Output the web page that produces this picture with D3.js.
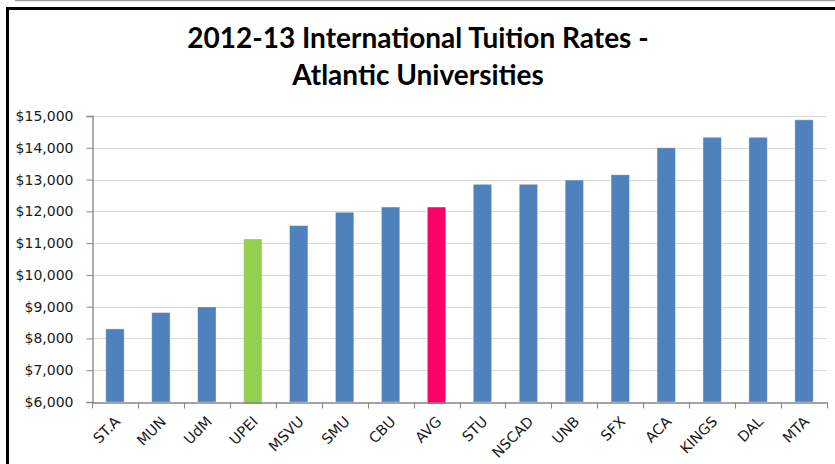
<!DOCTYPE html>
<html>
<head>
<meta charset="utf-8">
<script src="https://cdn.jsdelivr.net/npm/d3@7"></script>
<style>
  body { margin: 0; background: #fff; }
  svg { display: block; }
</style>
</head>
<body>
<svg width="835" height="464"></svg>
<script>
// schools and 2012-13 international tuition
var schools = ["ST.A", "MUN", "UdM", "UPEI", "MSVU", "SMU", "CBU", "AVG", "STU", "NSCAD", "UNB", "SFX", "ACA", "KINGS", "DAL", "MTA"];
var tuition = [8300, 8815, 8990, 11130, 11550, 11970, 12135, 12135, 12850, 12850, 12985, 13150, 14000, 14330, 14330, 14880];
var yTicks = [6000, 7000, 8000, 9000, 10000, 11000, 12000, 13000, 14000, 15000];
var highlight = { "UPEI": "#92d050", "AVG": "#ff0066" };

var svg = d3.select("svg");
var plotL = 92, plotR = 827, plotT = 116, plotB = 402;

// frame
svg.append("line").attr("x1", 15).attr("x2", 835).attr("y1", 0.5).attr("y2", 0.5)
  .style("stroke", "#9a9a9a").style("stroke-width", 1.5);
svg.append("path").attr("d", "M7.5,464V8.5H835")
  .style("fill", "none").style("stroke", "#000").style("stroke-width", 3);

// title
svg.append("text").attr("x", 418).attr("y", 48).attr("text-anchor", "middle")
  .style("font-family", "Lato").style("font-weight", "bold").style("font-size", "28px")
  .text("2012-13 International Tuition Rates -");
svg.append("text").attr("x", 418).attr("y", 85).attr("text-anchor", "middle")
  .style("font-family", "Lato").style("font-weight", "bold").style("font-size", "28px")
  .text("Atlantic Universities");

var x = d3.scaleBand().domain(schools).range([plotL, plotR]).paddingInner(0.6).paddingOuter(0.3);
var y = d3.scaleLinear().domain([6000, 15000]).range([plotB, plotT]);

// gridlines
svg.selectAll("line.grid")
    .data(yTicks.slice(1))
  .enter().append("line")
    .attr("class", "grid")
    .attr("x1", plotL).attr("x2", plotR)
    .attr("y1", function(d) { return Math.round(y(d)) + 0.5; })
    .attr("y2", function(d) { return Math.round(y(d)) + 0.5; })
    .style("stroke", "#d9d9d9").style("stroke-width", 1.2);

// bars
svg.selectAll("rect.bar")
    .data(schools)
  .enter().append("rect")
    .attr("class", "bar")
    .attr("x", function(d) { return x(d); })
    .attr("width", x.bandwidth())
    .attr("y", function(d, i) { return y(tuition[i]); })
    .attr("height", function(d, i) { return y(6000) - y(tuition[i]) + (highlight[d] ? 2 : 0); })
    .style("fill", function(d) { return highlight[d] || "#4f81bd"; })
    .style("stroke", "#ffffff").style("stroke-opacity", 0.45).style("stroke-width", 0.8);

// y axis
var yAxis = svg.append("g")
    .attr("transform", "translate(" + (plotL + 0.5) + ",0)")
    .call(d3.axisLeft(y).tickValues(yTicks).tickSize(6).tickPadding(13)
      .tickFormat(function(d) { return "$" + d3.format(",")(d); }));
yAxis.select(".domain").style("stroke", "#868686").style("stroke-width", 1.3);
yAxis.selectAll(".tick line").style("stroke", "#868686");
yAxis.selectAll(".tick text")
  .style("font-family", "DejaVu Sans").style("font-size", "14px").style("fill", "#1a1a1a");

// x axis with ticks between categories
var xAxis = svg.append("g")
    .attr("transform", "translate(0," + (plotB + 0.5) + ")")
    .call(d3.axisBottom(x).tickSize(0).tickPadding(0));
xAxis.select(".domain").style("stroke", "#868686").style("stroke-width", 1.3);
xAxis.selectAll(".tick text")
  .attr("text-anchor", "end")
  .attr("dy", 0)
  .attr("transform", "translate(6,20) rotate(-45)")
  .style("font-family", "DejaVu Sans").style("font-size", "14.5px").style("fill", "#1a1a1a");

xAxis.selectAll("line.bound")
    .data(d3.range(schools.length + 1))
  .enter().append("line")
    .attr("class", "bound")
    .attr("x1", function(i) { return Math.round(plotL + i * x.step()) + 0.5; })
    .attr("x2", function(i) { return Math.round(plotL + i * x.step()) + 0.5; })
    .attr("y1", 0).attr("y2", 6)
    .style("stroke", "#868686");
</script>
</body>
</html>
